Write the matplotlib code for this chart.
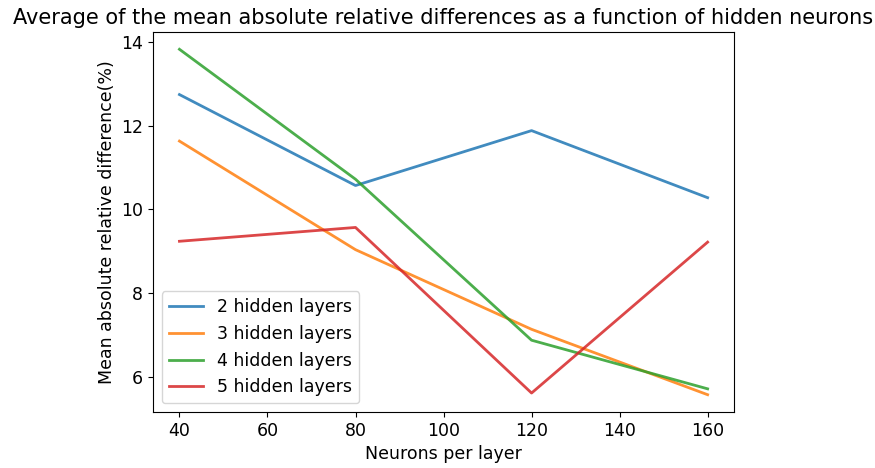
import matplotlib
matplotlib.use("Agg")
import matplotlib.pyplot as plt

# Neurons per layer and mean absolute relative difference (%) per depth
neurons = [40, 80, 120, 160]
layers_2 = [12.74, 10.57, 11.88, 10.28]
layers_3 = [11.63, 9.04, 7.14, 5.58]
layers_4 = [13.82, 10.72, 6.88, 5.72]
layers_5 = [9.24, 9.57, 5.62, 9.22]
labels = ["2 hidden layers", "3 hidden layers", "4 hidden layers", "5 hidden layers"]

base = 12.5
fig = plt.figure(figsize=(8.75, 4.68), dpi=100)
ax = fig.add_axes([0.1749, 0.1197, 0.6640, 0.8119])

for series, label in zip([layers_2, layers_3, layers_4, layers_5], labels):
    ax.plot(neurons, series, label=label, linewidth=2, alpha=0.85)

ax.set_xlabel("Neurons per layer", fontsize=base)
ax.set_ylabel("Mean absolute relative difference(%)", fontsize=base)
ax.set_title("Average of the mean absolute relative differences as a function of hidden neurons",
             fontsize=base * 1.2)
ax.tick_params(labelsize=base)
ax.legend(fontsize=base, loc="lower left")

fig.savefig("out.png", dpi=100)
